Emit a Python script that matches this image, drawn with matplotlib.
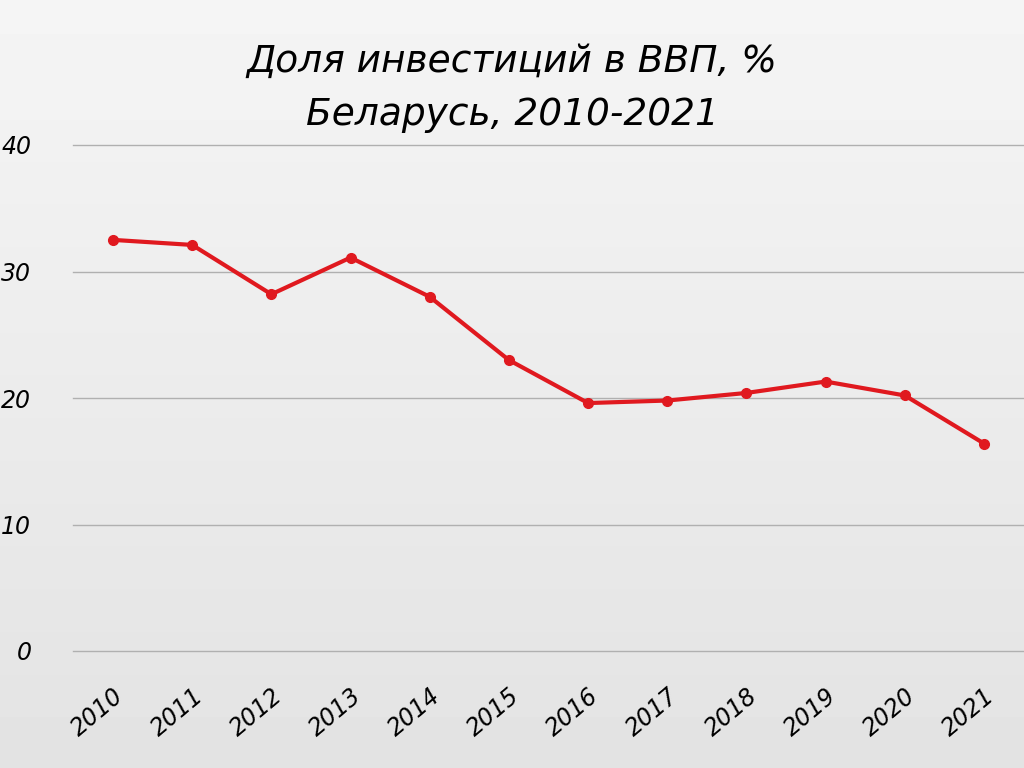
import matplotlib
matplotlib.use("Agg")
import matplotlib.pyplot as plt
import numpy as np

years = ["2010", "2011", "2012", "2013", "2014", "2015",
         "2016", "2017", "2018", "2019", "2020", "2021"]
share = [32.5, 32.1, 28.2, 31.1, 28.0, 23.0, 19.6, 19.8, 20.4, 21.3, 20.2, 16.4]
yticks = [0, 10, 20, 30, 40]

title = "Доля инвестиций в ВВП, %\nБеларусь, 2010-2021"

plt.rcParams['font.family'] = ['DejaVu Sans']

fig = plt.figure(figsize=(10.24, 7.68), dpi=100)
fig.patch.set_facecolor("#ededed")

# soft background shading
bg = fig.add_axes([0, 0, 1, 1], zorder=-1)
grad = np.outer(np.linspace(0.96, 0.89, 256), np.ones(256))
bg.imshow(grad, cmap="gray", vmin=0, vmax=1, aspect="auto", extent=[0, 1, 0, 1])
bg.axis("off")

ax = fig.add_axes([73 / 1024, 1 - 651 / 768, 951 / 1024, 506 / 768])
ax.patch.set_alpha(0)
x = np.arange(len(years))
ax.plot(x, share, color="#e0191f", lw=3, marker="o", ms=7, zorder=3)

ax.set_xlim(-0.505, 11.505)
ax.set_ylim(0, 40)
ax.set_yticks(yticks)
ax.set_yticklabels([str(v) for v in yticks], fontsize=17, style="italic")
ax.set_xticks(x)
ax.set_xticklabels(years, fontsize=17, style="italic", rotation=40,
                   ha="right", rotation_mode="anchor")
ax.tick_params(axis="y", length=0, pad=30)
ax.tick_params(axis="x", length=0, pad=24)
ax.grid(axis="y", color="#b0b0b0", lw=1)
ax.grid(axis="x", visible=False)
for gl in ax.get_ygridlines():
    gl.set_clip_on(False)
for s in ax.spines.values():
    s.set_visible(False)

fig.text(0.5, 0.885, title, ha="center", va="center", fontsize=27,
         style="italic", linespacing=1.6)

fig.savefig("out.png", dpi=100, facecolor=fig.get_facecolor())
